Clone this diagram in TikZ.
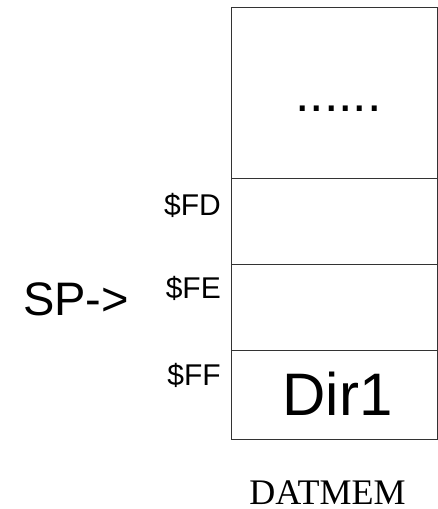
\documentclass[tikz,border=0pt]{standalone}
\usepackage{fontspec}
\setmainfont{Liberation Sans}
\newfontfamily\serifcap{Liberation Serif}
\begin{document}
\begin{tikzpicture}[x=1pt,y=-1pt,
  cell/.style={draw=black!80,line width=1pt,minimum width=206pt,inner sep=0pt,outer sep=0pt,anchor=north west},
  addr/.style={anchor=base east,inner sep=0pt,font=\fontsize{30}{34}\selectfont},
  big/.style={anchor=base,inner sep=0pt}]
\useasboundingbox (0,0) rectangle (438,509);
\node[cell,minimum height=171pt] (c0) at (231,7) {};
\node[cell,minimum height=86pt] (c1) at (231,178) {};
\node[cell,minimum height=86pt] (c2) at (231,264) {};
\node[cell,minimum height=89pt] (c3) at (231,350) {};
\node[big,font=\fontsize{52}{58}\selectfont] (dots) at (338.5,111) {......};
\node[big,font=\fontsize{60}{66}\selectfont] (dir) at (337.5,415) {Dir1};
\node[addr] (fd) at (221,215) {\$FD};
\node[addr] (fe) at (221,298) {\$FE};
\node[addr] (ff) at (221,385) {\$FF};
\node[anchor=base west,inner sep=0pt,font=\fontsize{47}{50}\selectfont] (sp) at (23,315) {SP->};
\node[big,font=\serifcap\fontsize{36}{40}\selectfont] (dm) at (327.5,504) {DATMEM};
\end{tikzpicture}
\end{document}
